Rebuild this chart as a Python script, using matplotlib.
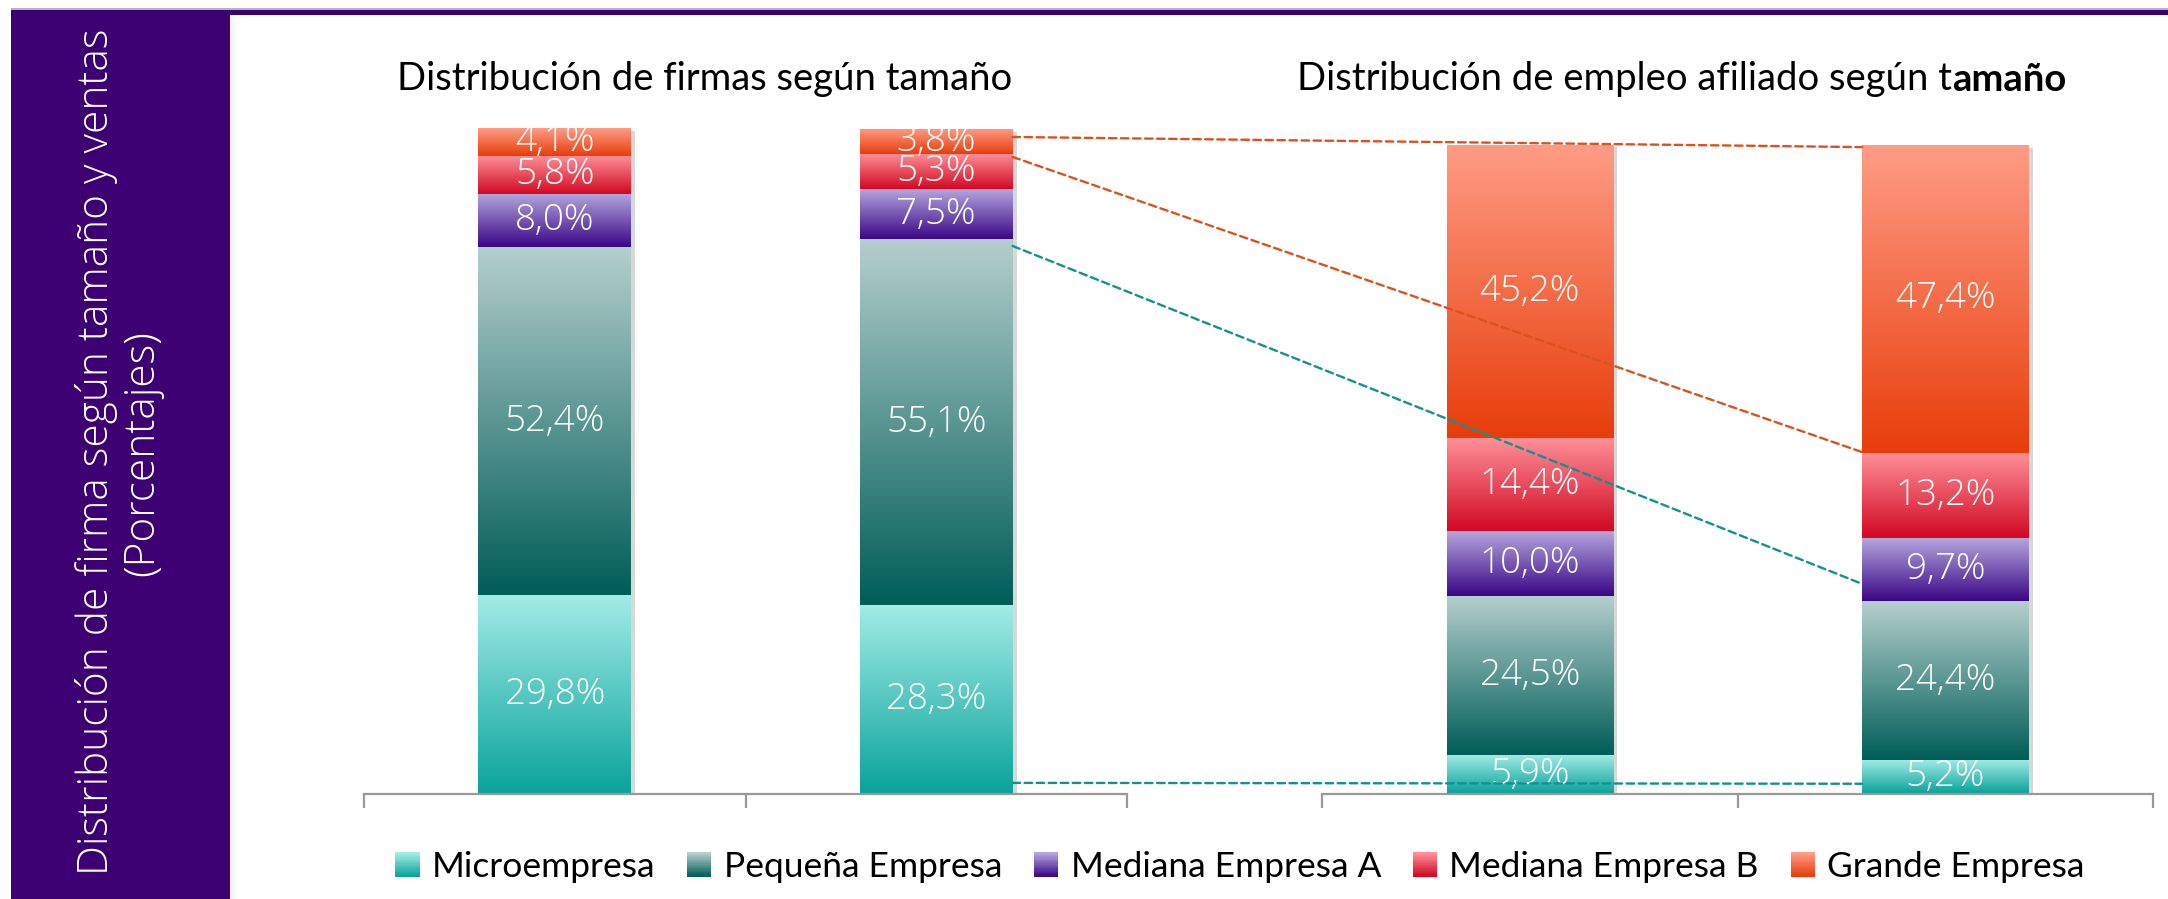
import matplotlib
matplotlib.use('Agg')
import matplotlib.pyplot as plt
import matplotlib.patheffects as pe
import numpy as np
from matplotlib.colors import LinearSegmentedColormap
from matplotlib.patches import Rectangle, ConnectionPatch
from matplotlib.legend_handler import HandlerBase

plt.rcParams['font.family'] = ['Lato', 'DejaVu Sans']
LIGHT = ['Open Sans', 'Lato', 'DejaVu Sans']

# Categories (stack order, bottom to top)
categories = ['Microempresa', 'Pequeña Empresa', 'Mediana Empresa A',
              'Mediana Empresa B', 'Grande Empresa']

# Distribución de firmas según tamaño (two bars)
micro_firmas = [29.8, 28.3]
pequena_firmas = [52.4, 55.1]
medA_firmas = [8.0, 7.5]
medB_firmas = [5.8, 5.3]
grande_firmas = [4.1, 3.8]

# Distribución de empleo afiliado según tamaño (two bars)
micro_empleo = [5.9, 5.2]
pequena_empleo = [24.5, 24.4]
medA_empleo = [10.0, 9.7]
medB_empleo = [14.4, 13.2]
grande_empleo = [45.2, 47.4]

# dashed connector levels (left panel bar 2 -> right panel bar 2)
conn_left = [98.8, 95.8, 82.4, 1.6]
conn_right = [99.6, 52.6, 32.3, 1.5]
conn_colors = ['#d9531e', '#d9531e', '#12928e', '#12928e']

# gradient colours per category (top, bottom)
grads = [('#a3ece7', '#0aa39c'),
         ('#b5cfcd', '#005d58'),
         ('#b5a6de', '#3a0686'),
         ('#ff9199', '#d20822'),
         ('#ff9c86', '#e83d0a')]

W, H = 2168, 899
purple = '#3d0072'

fig = plt.figure(figsize=(W / 100, H / 100), dpi=100)


def lbl(v):
    return f'{v:.1f}'.replace('.', ',') + '%'


def draw_panel(ax, series):
    x = np.arange(2)
    bottoms = np.zeros(2)
    grad = np.linspace(0, 1, 256).reshape(-1, 1)
    for name, vals, (ctop, cbot) in zip(categories, series, grads):
        vals = np.array(vals)
        bars = ax.bar(x, vals, 0.4, bottom=bottoms, color='white', zorder=1,
                      path_effects=[pe.SimplePatchShadow(offset=(3, -2), shadow_rgbFace='0.4', alpha=0.25),
                                    pe.Normal()])
        cmap = LinearSegmentedColormap.from_list(name, [cbot, ctop])
        for b, v in zip(bars, vals):
            x0, y0 = b.get_x(), b.get_y()
            im = ax.imshow(grad, cmap=cmap, origin='lower', aspect='auto', interpolation='bilinear',
                           extent=(x0, x0 + b.get_width(), y0, y0 + b.get_height()), zorder=2)
            im.set_clip_path(b)
            ax.text(x0 + b.get_width() / 2, y0 + v / 2, lbl(v), ha='center', va='center',
                    color='white', fontsize=26.5, family=LIGHT, fontweight=300, zorder=5)
        bottoms += vals
    ax.set_xlim(-0.5, 1.5)
    ax.set_ylim(0, 100)
    for s in ['top', 'right', 'left']:
        ax.spines[s].set_visible(False)
    ax.spines['bottom'].set_color('#999999')
    ax.spines['bottom'].set_linewidth(1.6)
    ax.set_yticks([])
    ax.set_xticks([-0.5, 0.5, 1.5])
    ax.set_xticklabels([])
    ax.tick_params(axis='x', length=10, width=1.6, color='#999999', direction='out')
    ax.patch.set_alpha(0)


ax1 = fig.add_axes([364 / W, (H - 793.5) / H, 763 / W, 664.5 / H])
draw_panel(ax1, [micro_firmas, pequena_firmas, medA_firmas, medB_firmas, grande_firmas])

ax2 = fig.add_axes([1322 / W, (H - 793.5) / H, 831 / W, 649 / H])
draw_panel(ax2, [micro_empleo, pequena_empleo, medA_empleo, medB_empleo, grande_empleo])

# dashed connectors
for yl, yr, c in zip(conn_left, conn_right, conn_colors):
    con = ConnectionPatch(xyA=(1.2, yl), coordsA=ax1.transData,
                          xyB=(0.8, yr), coordsB=ax2.transData,
                          color=c, lw=1.7, linestyle=(0, (3.2, 1.9)), zorder=6)
    fig.add_artist(con)

# left purple panel + top rule
fig.add_artist(Rectangle((11 / W, 0), 219 / W, (H - 10) / H, transform=fig.transFigure,
                         facecolor=purple, edgecolor='none', zorder=0))
for i in range(8):
    fig.add_artist(Rectangle(((230 + i) / W, 0), 1 / W, (H - 15) / H, transform=fig.transFigure,
                             facecolor='black', alpha=0.05 * (1 - i / 8), edgecolor='none', zorder=0))
fig.add_artist(Rectangle((11 / W, (H - 15) / H), 1, 5 / H, transform=fig.transFigure,
                         facecolor=purple, edgecolor='none', zorder=0))
fig.add_artist(Rectangle((11 / W, (H - 10) / H), 1, 1.5 / H, transform=fig.transFigure,
                         facecolor='#b9b2c6', edgecolor='none', zorder=0))

fig.text(97 / W, 1 - 452 / H, 'Distribución de firma según tamaño y ventas', rotation=90,
         ha='center', va='center', color='white', fontsize=30.5, family=LIGHT, fontweight=300)
fig.text(142 / W, 1 - 453 / H, '(Porcentajes)', rotation=90,
         ha='center', va='center', color='white', fontsize=30.5, family=LIGHT, fontweight=300)

# titles
fig.text(705 / W, 1 - 79 / H, 'Distribución de firmas según tamaño', ha='center', va='center',
         fontsize=27.5, color='black')
t2 = fig.text(1297 / W, 1 - 79 / H, 'Distribución de empleo afiliado según t', ha='left', va='center',
              fontsize=27.5, color='black')
ax2.annotate('amaño', xy=(1, 0), xycoords=t2, ha='left', va='bottom', fontsize=27.5,
             fontweight='bold', color='black', annotation_clip=False)


# legend with gradient squares
class GradHandler(HandlerBase):
    def __init__(self, ctop, cbot):
        super().__init__()
        self.cmap = LinearSegmentedColormap.from_list('h', [cbot, ctop])

    def create_artists(self, legend, orig_handle, xdescent, ydescent, width, height, fontsize, trans):
        n = 20
        arts = []
        for i in range(n):
            r = Rectangle((-xdescent, -ydescent + height * i / n), width, height / n * 1.1,
                          facecolor=self.cmap(i / (n - 1)), edgecolor='none', transform=trans)
            arts.append(r)
        return arts


proxies = [Rectangle((0, 0), 1, 1) for _ in categories]
hmap = {p: GradHandler(ct, cb) for p, (ct, cb) in zip(proxies, grads)}
fig.legend(proxies, categories, handler_map=hmap, loc='center', bbox_to_anchor=(1240 / W, 32 / H),
           ncol=5, frameon=False, fontsize=25.5, handlelength=0.68, handleheight=0.68,
           handletextpad=0.35, columnspacing=0.9)

fig.savefig('out.png', dpi=100)
